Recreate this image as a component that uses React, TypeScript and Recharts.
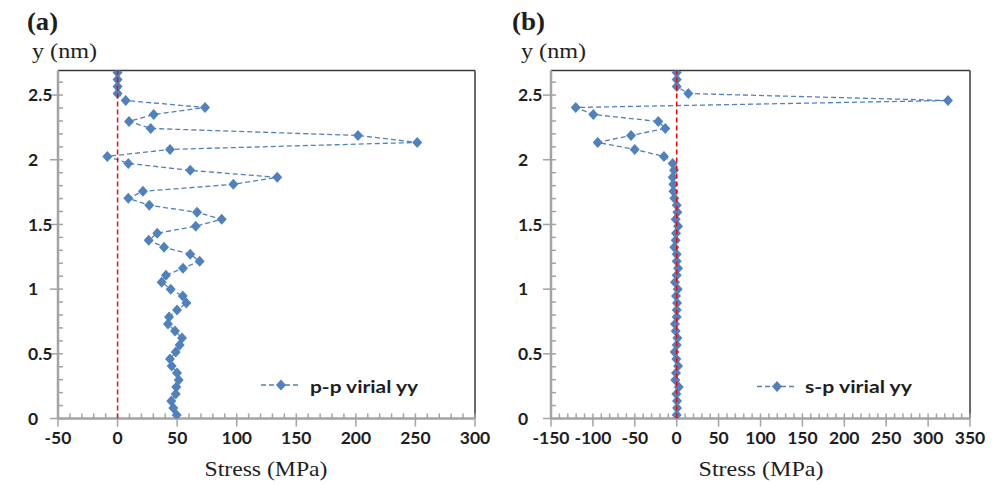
import React from 'react';
import { ScatterChart, Scatter, XAxis, YAxis, ReferenceLine } from 'recharts';

// y position (nm) of each sample, bottom to top
const heightNm = [
  0.028, 0.082, 0.136, 0.19, 0.244, 0.298, 0.352, 0.406, 0.46, 0.514,
  0.568, 0.622, 0.676, 0.73, 0.784, 0.838, 0.892, 0.946, 1.0, 1.054,
  1.108, 1.162, 1.216, 1.27, 1.324, 1.378, 1.432, 1.486, 1.54, 1.594,
  1.648, 1.702, 1.756, 1.81, 1.864, 1.918, 1.972, 2.026, 2.08, 2.134,
  2.188, 2.242, 2.296, 2.35, 2.404, 2.458, 2.512, 2.566, 2.62, 2.674,
];

// (a) p-p virial yy stress (MPa)
const ppVirialYY = [
  49.6, 46.8, 45.1, 48.8, 49.3, 51.3, 49.9, 45.4, 44.0, 48.8,
  52.1, 54.1, 48.2, 42.3, 43.2, 49.9, 57.7, 54.7, 44.6, 37.0,
  40.6, 54.9, 68.9, 61.0, 39.0, 26.1, 33.3, 65.6, 87.4, 66.7,
  26.6, 9.0, 21.3, 97.2, 134.0, 61.0, 9.0, -8.6, 44.0, 251.5,
  201.8, 27.8, 9.6, 30.3, 73.4, 6.8, 0.0, 0.0, 0.0, 0.0,
];

// (b) s-p virial yy stress (MPa)
const spVirialYY = [
  0.0, 0.4, 0.4, -0.4, 2.4, -1.6, -0.8, 1.6, -0.4, -2.4,
  0.0, 0.8, -1.2, -2.0, 0.0, 0.0, 0.4, -0.8, 1.2, -2.0,
  0.0, 1.6, 0.0, 0.0, -2.8, -1.2, -0.8, 1.6, -1.2, 0.8,
  0.0, -2.8, -4.0, -4.0, -4.8, -3.2, -4.8, -15.2, -50.1, -94.3,
  -54.5, -13.6, -22.0, -99.5, -120.5, 323.7, 13.9, 0.0, 0.0, 0.0,
];

// zero-stress reference (red dashed line)
const zeroStress = [0, 0];
const zeroSpan = [0, 2.69];

const yMajorTicks = [0, 0.5, 1, 1.5, 2, 2.5];
const xMajorTicksA = [-50, 0, 50, 100, 150, 200, 250, 300];
const xMajorTicksB = [-150, -100, -50, 0, 50, 100, 150, 200, 250, 300, 350];
const legendA = 'p-p virial yy';
const legendB = 's-p virial yy';

const Y_MAX = 2.69;
const BLUE = '#4F81BD';
const AXIS_GRAY = '#a3a3a3';
const TEXT = '#1e1e1e';

const range = (a: number, b: number, step: number) => {
  const out: number[] = [];
  for (let v = a; v <= b + 1e-9; v += step) out.push(Math.round(v * 1000) / 1000);
  return out;
};
const yAllTicks = range(0, 2.6, 0.1);
const isMajorY = (v: number) => yMajorTicks.some((t) => Math.abs(t - v) < 1e-6);

const ppData = heightNm.map((y, i) => ({ stress: ppVirialYY[i], y }));
const spData = heightNm.map((y, i) => ({ stress: spVirialYY[i], y }));
const zeroData = zeroSpan.map((y, i) => ({ stress: zeroStress[i], y }));

const Diamond = (props: any) => {
  const { cx, cy } = props;
  if (cx == null || cy == null) return null;
  return (
    <polygon
      points={`${cx},${cy - 5.5} ${cx + 5},${cy} ${cx},${cy + 5.5} ${cx - 5},${cy}`}
      fill={BLUE}
    />
  );
};

const NoShape = () => <g />;
const EmptyTick = () => <g />;

const makeYTick = (labelX: number, axisX: number) => (props: any) => {
  const { y, payload } = props;
  const v = payload.value as number;
  const major = isMajorY(v);
  return (
    <g>
      <line
        x1={major ? axisX - 8 : axisX}
        x2={axisX + 5}
        y1={y}
        y2={y}
        stroke={AXIS_GRAY}
        strokeWidth={1.5}
      />
      {major && (
        <text
          x={labelX}
          y={y}
          dy="0.36em"
          textAnchor="start"
          fontFamily="Lato"
          fontWeight={700}
          fontSize={17.5}
          fill={TEXT}
        >
          {String(v)}
        </text>
      )}
    </g>
  );
};

type PanelProps = {
  data: { stress: number; y: number }[];
  xDomain: [number, number];
  xTicks: number[];
  yAxisWidth: number;
  marginRight: number;
  labelX: number;
};

function Panel({ data, xDomain, xTicks, yAxisWidth, marginRight, labelX }: PanelProps) {
  const xMinor = range(xDomain[0], xDomain[1], 10);
  return (
    <ScatterChart
      width={500}
      height={484}
      margin={{ top: 70.5, right: marginRight, bottom: 35.5, left: 0 }}
    >
      <XAxis
        type="number"
        dataKey="stress"
        domain={xDomain}
        allowDataOverflow
        ticks={xTicks}
        interval={0}
        height={30}
        tickSize={8}
        tickMargin={5}
        axisLine={{ stroke: AXIS_GRAY, strokeWidth: 2.5 }}
        tickLine={{ stroke: AXIS_GRAY, strokeWidth: 1.5 }}
        tick={{ fontFamily: 'Lato', fontWeight: 700, fontSize: 17.5, fill: TEXT }}
      />
      <XAxis
        xAxisId="minor"
        type="number"
        dataKey="stress"
        domain={xDomain}
        allowDataOverflow
        ticks={xMinor}
        interval={0}
        mirror
        tickSize={5}
        tick={EmptyTick}
        axisLine={false}
        tickLine={{ stroke: AXIS_GRAY, strokeWidth: 1.5 }}
      />
      <YAxis
        type="number"
        dataKey="y"
        domain={[0, Y_MAX]}
        allowDataOverflow
        ticks={yAllTicks}
        interval={0}
        width={yAxisWidth}
        tickSize={8}
        axisLine={{ stroke: AXIS_GRAY, strokeWidth: 2.5 }}
        tickLine={false}
        tick={makeYTick(labelX, yAxisWidth)}
      />
      <ReferenceLine y={Y_MAX} stroke="#383838" strokeWidth={1.5} />
      <ReferenceLine x={xDomain[1]} stroke="#383838" strokeWidth={1.5} />
      <Scatter
        data={data}
        fill={BLUE}
        shape={Diamond}
        line={{ stroke: BLUE, strokeWidth: 1.3, strokeDasharray: '5 3' }}
        lineType="joint"
        isAnimationActive={false}
      />
      <Scatter
        data={zeroData}
        fill="#ff0000"
        shape={NoShape}
        line={{ stroke: '#ff0000', strokeWidth: 1.5, strokeDasharray: '5 3' }}
        lineType="joint"
        isAnimationActive={false}
      />
    </ScatterChart>
  );
}

function LegendMark({ x1, x2, y }: { x1: number; x2: number; y: number }) {
  const cx = (x1 + x2) / 2;
  return (
    <g>
      <line x1={x1} x2={x2} y1={y} y2={y} stroke={BLUE} strokeWidth={1.3} strokeDasharray="5 3" />
      <polygon points={`${cx},${y - 5.5} ${cx + 5},${y} ${cx},${y + 5.5} ${cx - 5},${y}`} fill={BLUE} />
    </g>
  );
}

export default function App() {
  return (
    <div style={{ position: 'absolute', left: 0, top: 0, width: 1000, height: 484, background: '#fff' }}>
      <div style={{ position: 'absolute', left: 0, top: 0 }}>
        <Panel data={ppData} xDomain={[-50, 300]} xTicks={xMajorTicksA} yAxisWidth={58} marginRight={25} labelX={28} />
      </div>
      <div style={{ position: 'absolute', left: 500, top: 0 }}>
        <Panel data={spData} xDomain={[-150, 350]} xTicks={xMajorTicksB} yAxisWidth={51} marginRight={30} labelX={18} />
      </div>
      <svg width={1000} height={484} style={{ position: 'absolute', left: 0, top: 0, pointerEvents: 'none' }}>
        <text x={27} y={30} fontFamily="Liberation Serif" fontWeight={700} fontSize={25} fill={TEXT} textLength={31} lengthAdjust="spacingAndGlyphs">(a)</text>
        <text x={512} y={30} fontFamily="Liberation Serif" fontWeight={700} fontSize={25} fill={TEXT} textLength={33} lengthAdjust="spacingAndGlyphs">(b)</text>
        <text x={32} y={58} fontFamily="Liberation Serif" fontSize={22} fill={TEXT} textLength={65} lengthAdjust="spacingAndGlyphs">y (nm)</text>
        <text x={521} y={58} fontFamily="Liberation Serif" fontSize={22} fill={TEXT} textLength={65} lengthAdjust="spacingAndGlyphs">y (nm)</text>
        <text x={266} y={476} textAnchor="middle" fontFamily="Liberation Serif" fontSize={21} fill={TEXT} textLength={123} lengthAdjust="spacingAndGlyphs">Stress (MPa)</text>
        <text x={761} y={476} textAnchor="middle" fontFamily="Liberation Serif" fontSize={21} fill={TEXT} textLength={125} lengthAdjust="spacingAndGlyphs">Stress (MPa)</text>
        <LegendMark x1={261} x2={301} y={385} />
        <text x={310} y={393} fontFamily="Lato" fontWeight={700} fontSize={17.5} fill={TEXT} textLength={108} lengthAdjust="spacingAndGlyphs">{legendA}</text>
        <LegendMark x1={757} x2={797} y={386.5} />
        <text x={805} y={393} fontFamily="Lato" fontWeight={700} fontSize={17.5} fill={TEXT} textLength={107} lengthAdjust="spacingAndGlyphs">{legendB}</text>
      </svg>
    </div>
  );
}
